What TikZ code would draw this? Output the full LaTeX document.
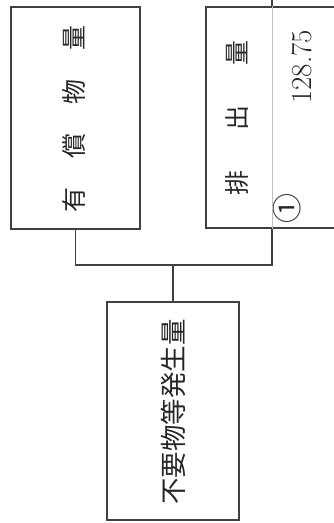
\documentclass[tikz,border=0pt]{standalone}
\usepackage{fontspec}
\newfontfamily\cjk{Noto Sans CJK JP}
\usetikzlibrary{calc,positioning}
\tikzset{
    box/.style={rectangle, draw=black!75, line width=1.7pt, inner sep=0pt},
    link/.style={draw=black!75, line width=1.7pt},
    divider/.style={draw=black!25, line width=0.6pt},
    lbl/.style={rotate=90, inner sep=0pt, text=black!85}
}

\begin{document}
\begin{tikzpicture}[
  x=1pt, y=-1pt,
  cjkbig/.style={font=\cjk\fontsize{25}{25}\selectfont},
  num/.style={font=\fontsize{29}{29}\selectfont}
]
\clip (0,0) rectangle (334,523);

% ---- boxes ----
\node[box, minimum width=129pt, minimum height=222pt] (yusho) at (75.5,118) {};
\node[box, minimum width=132pt, minimum height=221pt] (haishutsu) at (272,117.5) {};
\node[box, minimum width=132pt, minimum height=218pt] (fuyo) at (173,411) {};

% ---- texts ----
\node[lbl, cjkbig] (tYusho) at (74,119) {有\hspace{29pt}償\hspace{29pt}物\hspace{29pt}量};
\node[lbl, cjkbig] (tHai) at (237,118) {排\hspace{40pt}出\hspace{40pt}量};
\node[lbl, num] (tVal) at (302,67) {128.75};
\node[lbl, font=\cjk\fontsize{30}{30}\selectfont] (tNo) at (287,208) {①};
\node[lbl, font=\cjk\fontsize{26.5}{26.5}\selectfont] (tFuyo) at (173,412) {不要物等発生量};

% ---- connectors ----
\coordinate (top) at (272,-5);
\coordinate (bus) at (173,265);
\draw[divider] (haishutsu.north) -- (haishutsu.south);
\draw[link] (haishutsu.north) -- (top);
\draw[link] (yusho.south) |- (bus) -| (haishutsu.south);
\draw[link] (bus) -- (fuyo.north);

\end{tikzpicture}
\end{document}
